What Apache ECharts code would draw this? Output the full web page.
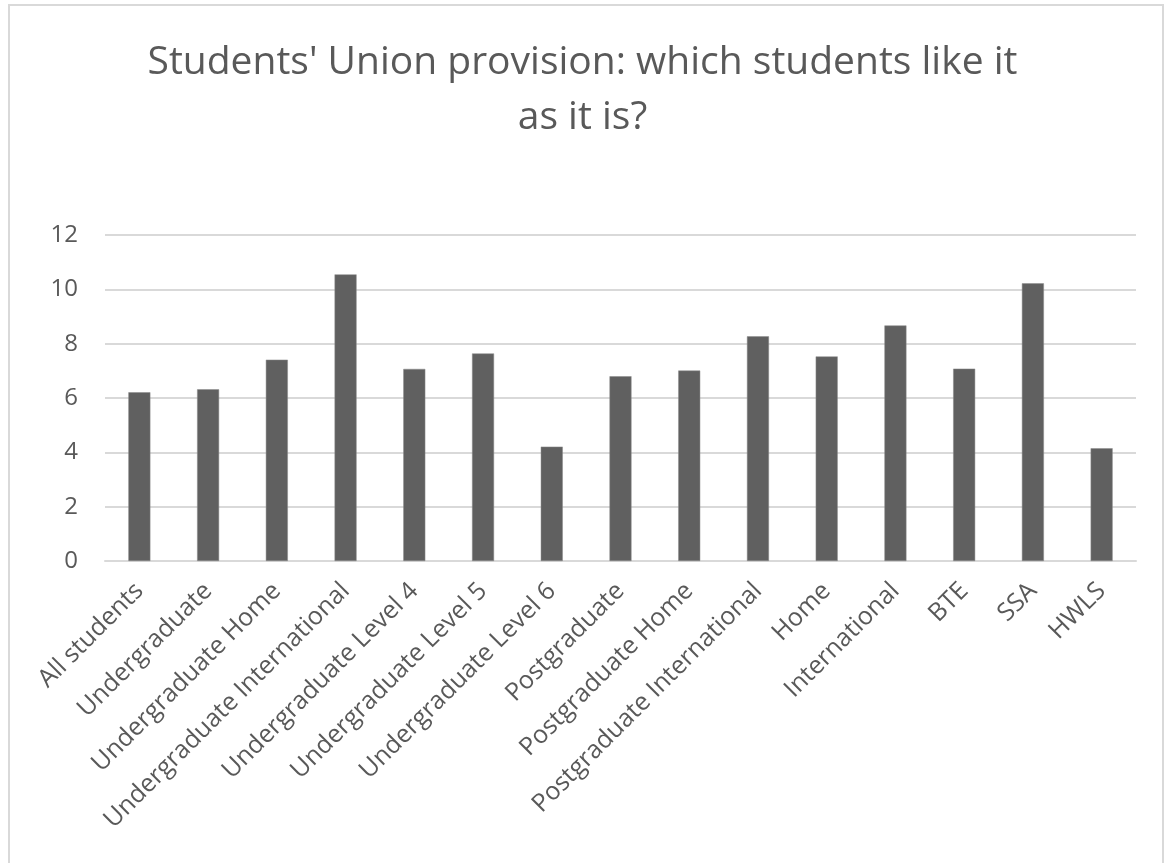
<!DOCTYPE html>
<html>
<head>
<meta charset="utf-8">
<script src="https://cdn.jsdelivr.net/npm/echarts@6/dist/echarts.min.js"></script>
<style>
  html, body { margin: 0; padding: 0; background: #fff; }
  #frame { position: absolute; left: 8px; top: 4px; width: 1156px; height: 870px; border: 2px solid #d9d9d9; box-sizing: border-box; }
  #main { position: absolute; left: 0; top: 0; width: 1165px; height: 863px; }
</style>
</head>
<body>
<div id="frame"></div>
<div id="main"></div>
<script>
// 学生群体
var categories = [
    'All students', 'Undergraduate', 'Undergraduate Home', 'Undergraduate International',
    'Undergraduate Level 4', 'Undergraduate Level 5', 'Undergraduate Level 6',
    'Postgraduate', 'Postgraduate Home', 'Postgraduate International',
    'Home', 'International', 'BTE', 'SSA', 'HWLS'
];
// 数值
var values = [6.21, 6.32, 7.41, 10.55, 7.07, 7.64, 4.21, 6.80, 7.01, 8.27, 7.53, 8.67, 7.08, 10.22, 4.15];
var titleText = "Students' Union provision: which students like it\nas it is?";

var myChart = echarts.init(document.getElementById('main'));
var option = {
    animation: false,
    backgroundColor: 'transparent',
    title: {
        text: titleText,
        left: 'center',
        top: 30,
        textStyle: {
            fontFamily: 'Open Sans',
            fontSize: 39,
            fontWeight: 'normal',
            color: '#595959',
            lineHeight: 55
        }
    },
    grid: {
        left: 105,
        right: 29,
        top: 235,
        bottom: 302
    },
    xAxis: {
        type: 'category',
        data: categories,
        axisLine: { lineStyle: { color: '#d9d9d9', width: 2 } },
        axisTick: { show: false },
        axisLabel: {
            interval: 0,
            rotate: 45,
            margin: 26,
            fontFamily: 'Open Sans',
            fontSize: 25,
            color: '#595959'
        }
    },
    yAxis: {
        type: 'value',
        min: 0,
        max: 12,
        interval: 2,
        axisLine: { show: false },
        axisTick: { show: false },
        splitLine: { lineStyle: { color: '#d9d9d9', width: 2 } },
        axisLabel: {
            margin: 27,
            fontFamily: 'Open Sans',
            fontSize: 24,
            color: '#595959'
        }
    },
    series: [{
        type: 'bar',
        data: values,
        barWidth: 22,
        itemStyle: { color: '#606060', borderColor: '#8a8a8a', borderWidth: 0.5 }
    }]
};
myChart.setOption(option);
</script>
</body>
</html>
